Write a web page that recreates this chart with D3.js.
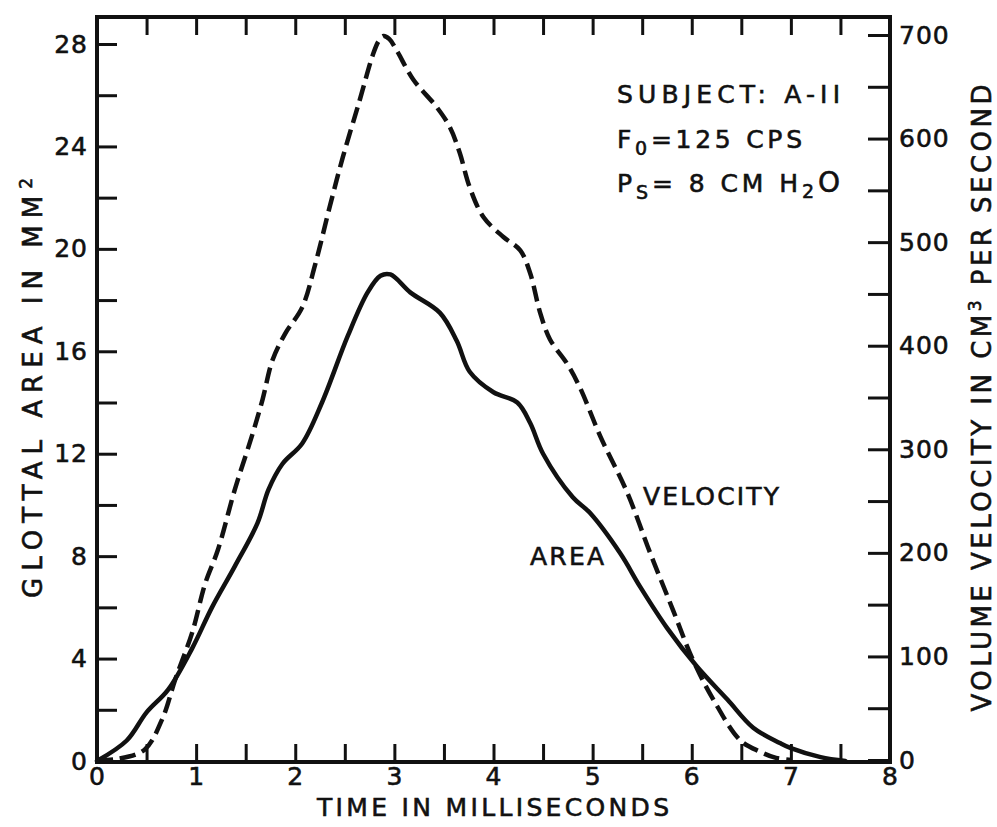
<!DOCTYPE html>
<html>
<head>
<meta charset="utf-8">
<script src="https://cdn.jsdelivr.net/npm/d3@7"></script>
<style>
  body { margin: 0; background: #fff; }
  svg { display: block; }
  text { font-family: "DejaVu Sans", sans-serif; fill: #111; stroke: #111; stroke-width: 0.6px; }
  .axis path.domain { display: none; }
  .axis line { stroke: #111; stroke-width: 3; }
  .axis text { font-size: 25px; letter-spacing: 1px; }
  .curve { fill: none; stroke: #111; stroke-width: 4.5; stroke-linejoin: round; stroke-linecap: round; }
</style>
</head>
<body>
<svg width="997" height="827"></svg>
<script>
// glottal area (mm^2)
var areaTime = [0, 0.3, 0.5, 0.72, 0.96, 1.16, 1.39, 1.62, 1.73, 1.87, 2.07, 2.27, 2.53, 2.73, 2.86, 2.96,
                3.16, 3.46, 3.63, 3.76, 4.0, 4.24, 4.37, 4.5, 4.8, 4.97, 5.28, 5.48, 5.75, 6.05, 6.36,
                6.62, 6.89, 7.0, 7.3, 7.55];
var areaValues = [0, 0.8, 1.9, 2.8, 4.4, 6.0, 7.6, 9.3, 10.6, 11.6, 12.4, 14.0, 16.6, 18.3, 18.95, 19.0,
                  18.3, 17.5, 16.4, 15.2, 14.4, 14.0, 13.2, 12.0, 10.3, 9.7, 8.1, 6.8, 5.2, 3.7, 2.4,
                  1.3, 0.7, 0.5, 0.15, 0];

// volume velocity (cm^3/s)
var velTime = [0, 0.2, 0.48, 0.66, 0.79, 0.96, 1.09, 1.22, 1.39, 1.56, 1.67, 1.77, 1.9, 2.07, 2.2, 2.35,
               2.48, 2.65, 2.78, 2.84, 2.89, 2.95, 3.03, 3.19, 3.43, 3.56, 3.66, 3.76, 3.9, 4.1, 4.27, 4.37, 4.47,
               4.57, 4.74, 4.87, 5.08, 5.35, 5.58, 5.81, 6.01, 6.22, 6.49, 6.69, 6.85, 7.0];
var velValues = [0, 1, 10, 40, 78, 123, 170, 203, 261, 312, 348, 386, 412, 437, 478, 535,
                 582, 637, 680, 694, 699, 696, 684, 657, 630, 611, 586, 553, 524, 505, 492, 470, 432,
                 406, 383, 360, 312, 258, 200, 145, 97, 58, 19, 8, 2, 0];

var timeTicks = d3.range(0, 8.01, 0.5);
var areaTicks = d3.range(0, 28.01, 2);
var velTicks = d3.range(0, 700.1, 50);

var svg = d3.select("svg");

var x = d3.scaleLinear().domain([0, 8]).range([97, 890]),
    yA = d3.scaleLinear().domain([0, 28]).range([761, 44]),
    yV = d3.scaleLinear().domain([0, 700]).range([760, 35]);

// frame
svg.append("rect")
    .attr("x", 97).attr("y", 17)
    .attr("width", 890 - 97).attr("height", 762 - 17)
    .attr("fill", "none").attr("stroke", "#111").attr("stroke-width", 4);

svg.append("g")
    .attr("class", "axis")
    .attr("transform", "translate(97,0)")
    .call(d3.axisLeft(yA).tickValues(areaTicks).tickSize(-20).tickSizeOuter(0).tickPadding(9)
      .tickFormat(function(d) { return d % 4 === 0 ? d : ""; }));

svg.append("g")
    .attr("class", "axis")
    .attr("transform", "translate(890,0)")
    .call(d3.axisRight(yV).tickValues(velTicks).tickSize(-22).tickSizeOuter(0).tickPadding(9)
      .tickFormat(function(d) { return d % 100 === 0 ? d : ""; }));

svg.append("g")
    .attr("class", "axis")
    .attr("transform", "translate(0,762)")
    .call(d3.axisBottom(x).tickValues(timeTicks).tickSize(-18).tickSizeOuter(0).tickPadding(5)
      .tickFormat(function(d) { return d % 1 === 0 ? d : ""; }));

svg.append("g")
    .attr("class", "axis")
    .attr("transform", "translate(0,17)")
    .call(d3.axisTop(x).tickValues(timeTicks.slice(1, -1)).tickSize(-18).tickSizeOuter(0)
      .tickFormat(""));

// axis titles
svg.append("text")
    .attr("x", 493).attr("y", 816)
    .attr("text-anchor", "middle")
    .attr("textLength", 352).attr("lengthAdjust", "spacing")
    .style("font-size", "25px")
    .text("TIME IN MILLISECONDS");

var lt = svg.append("text")
    .attr("transform", "translate(42,388) rotate(-90)")
    .attr("text-anchor", "middle")
    .attr("textLength", 420).attr("lengthAdjust", "spacing")
    .style("font-size", "26px");
lt.append("tspan").text("GLOTTAL  AREA  IN  MM");
lt.append("tspan").attr("dy", -10).style("font-size", "17px").text("2");

var rt = svg.append("text")
    .attr("transform", "translate(991,398) rotate(-90)")
    .attr("text-anchor", "middle")
    .attr("textLength", 627).attr("lengthAdjust", "spacing")
    .style("font-size", "26px");
rt.append("tspan").text("VOLUME  VELOCITY  IN  CM");
rt.append("tspan").attr("dy", -10).style("font-size", "17px").text("3");
rt.append("tspan").attr("dy", 10).text("  PER  SECOND");

// curves
var areaLine = d3.line()
    .curve(d3.curveCatmullRom.alpha(0.5))
    .x(function(d, i) { return x(areaTime[i]); })
    .y(function(d) { return yA(d); });

var velLine = d3.line()
    .curve(d3.curveCatmullRom.alpha(0.5))
    .x(function(d, i) { return x(velTime[i]); })
    .y(function(d) { return yV(d); });

svg.append("path")
    .attr("class", "curve")
    .attr("d", areaLine(areaValues));

svg.append("path")
    .attr("class", "curve")
    .attr("stroke-dasharray", "16,7")
    .style("stroke-linecap", "butt")
    .attr("d", velLine(velValues));

// curve labels
svg.append("text").attr("x", 643).attr("y", 505)
    .attr("textLength", 136).attr("lengthAdjust", "spacing")
    .style("font-size", "25px").text("VELOCITY");
svg.append("text").attr("x", 530).attr("y", 565)
    .attr("textLength", 74).attr("lengthAdjust", "spacing")
    .style("font-size", "25px").text("AREA");

// subject note
var note = svg.append("g").style("font-size", "25px");
note.append("text").attr("x", 617).attr("y", 103)
    .attr("textLength", 223).attr("lengthAdjust", "spacing")
    .text("SUBJECT: A-II");

var f0 = note.append("text").attr("x", 617).attr("y", 148)
    .attr("textLength", 185).attr("lengthAdjust", "spacing");
f0.append("tspan").text("F");
f0.append("tspan").attr("dy", 7).style("font-size", "19px").text("0");
f0.append("tspan").attr("dy", -7).text("=125  CPS");

var ps = note.append("text").attr("x", 617).attr("y", 192)
    .attr("textLength", 223).attr("lengthAdjust", "spacing");
ps.append("tspan").text("P");
ps.append("tspan").attr("dy", 7).style("font-size", "19px").text("S");
ps.append("tspan").attr("dy", -7).text("= 8 CM  H");
ps.append("tspan").attr("dy", 6).style("font-size", "19px").text("2");
ps.append("tspan").attr("dy", -6).style("font-size", "28px").text("O");
</script>
</body>
</html>
